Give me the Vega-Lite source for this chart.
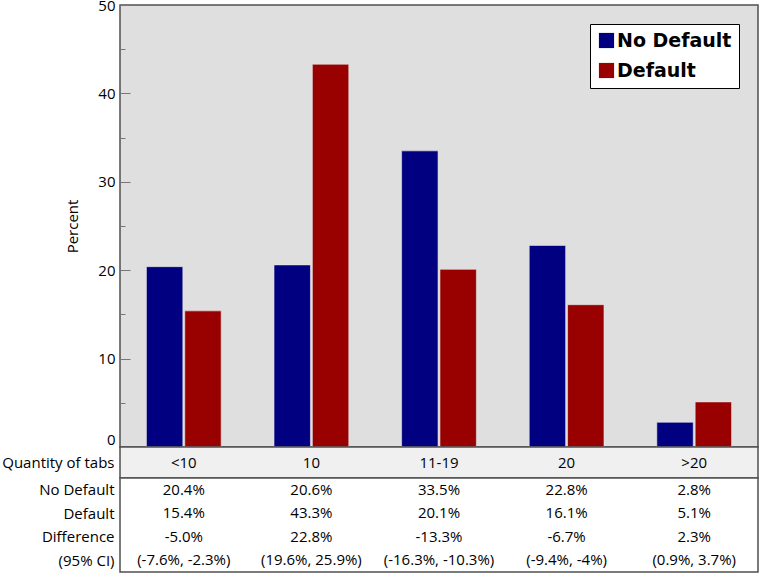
{
  "$schema": "https://vega.github.io/schema/vega-lite/v6.json",
  "padding": {"top": -3, "left": 0, "right": 2, "bottom": 0},
  "bounds": "flush",
  "spacing": 0,
  "background": "white",
  "config": {
    "font": "Open Sans",
    "view": {"stroke": "#505050", "strokeWidth": 1.5},
    "axis": {"labelFont": "Open Sans", "titleFont": "Open Sans", "labelColor": "black", "titleColor": "black"}
  },
  "datasets": {
    "bars": [
      {"tabs": "<10", "group": "No Default", "pct": 20.4},
      {"tabs": "<10", "group": "Default", "pct": 15.4},
      {"tabs": "10", "group": "No Default", "pct": 20.6},
      {"tabs": "10", "group": "Default", "pct": 43.3},
      {"tabs": "11-19", "group": "No Default", "pct": 33.5},
      {"tabs": "11-19", "group": "Default", "pct": 20.1},
      {"tabs": "20", "group": "No Default", "pct": 22.8},
      {"tabs": "20", "group": "Default", "pct": 16.1},
      {"tabs": ">20", "group": "No Default", "pct": 2.8},
      {"tabs": ">20", "group": "Default", "pct": 5.1}
    ],
    "header": [
      {"tabs": "<10", "row": "Quantity of tabs"},
      {"tabs": "10", "row": "Quantity of tabs"},
      {"tabs": "11-19", "row": "Quantity of tabs"},
      {"tabs": "20", "row": "Quantity of tabs"},
      {"tabs": ">20", "row": "Quantity of tabs"}
    ],
    "table": [
      {"tabs": "<10", "row": "No Default", "text": "20.4%"},
      {"tabs": "10", "row": "No Default", "text": "20.6%"},
      {"tabs": "11-19", "row": "No Default", "text": "33.5%"},
      {"tabs": "20", "row": "No Default", "text": "22.8%"},
      {"tabs": ">20", "row": "No Default", "text": "2.8%"},
      {"tabs": "<10", "row": "Default", "text": "15.4%"},
      {"tabs": "10", "row": "Default", "text": "43.3%"},
      {"tabs": "11-19", "row": "Default", "text": "20.1%"},
      {"tabs": "20", "row": "Default", "text": "16.1%"},
      {"tabs": ">20", "row": "Default", "text": "5.1%"},
      {"tabs": "<10", "row": "Difference", "text": "-5.0%"},
      {"tabs": "10", "row": "Difference", "text": "22.8%"},
      {"tabs": "11-19", "row": "Difference", "text": "-13.3%"},
      {"tabs": "20", "row": "Difference", "text": "-6.7%"},
      {"tabs": ">20", "row": "Difference", "text": "2.3%"},
      {"tabs": "<10", "row": "(95% CI)", "text": "(-7.6%, -2.3%)"},
      {"tabs": "10", "row": "(95% CI)", "text": "(19.6%, 25.9%)"},
      {"tabs": "11-19", "row": "(95% CI)", "text": "(-16.3%, -10.3%)"},
      {"tabs": "20", "row": "(95% CI)", "text": "(-9.4%, -4%)"},
      {"tabs": ">20", "row": "(95% CI)", "text": "(0.9%, 3.7%)"}
    ]
  },
  "vconcat": [
    {
      "width": 638,
      "height": 442,
      "view": {"fill": "#dfdfdf"},
      "data": {"name": "bars"},
      "mark": {"type": "bar", "stroke": "#e8e8e8", "strokeWidth": 0.6},
      "encoding": {
        "x": {
          "field": "tabs", "type": "nominal",
          "sort": ["<10", "10", "11-19", "20", ">20"],
          "scale": {"type": "band", "paddingInner": 0.414, "paddingOuter": 0.207},
          "axis": {"labels": false, "domain": false, "ticks": true, "tickSize": 3, "tickColor": "#888", "title": null}
        },
        "xOffset": {
          "field": "group", "type": "nominal",
          "sort": ["No Default", "Default"],
          "scale": {"paddingInner": 0.05}
        },
        "y": {
          "field": "pct", "type": "quantitative",
          "scale": {"domain": [0, 50], "nice": false},
          "axis": {
            "title": "Percent", "titleFontSize": 15, "titleFontWeight": "normal", "titlePadding": 17,
            "values": [0, 5, 10, 15, 20, 25, 30, 35, 40, 45, 50],
            "labelExpr": "datum.value % 10 == 0 ? datum.label : ''",
            "labelFontSize": 15, "labelPadding": 15,
            "labelBaseline": {"condition": {"test": "datum.value == 0", "value": "bottom"}, "value": "middle"},
            "tickSize": {"condition": {"test": "datum.value % 10 == 0", "value": -10}, "value": -5},
            "tickColor": "#777", "tickWidth": 1, "domain": false, "grid": false
          }
        },
        "color": {
          "field": "group", "type": "nominal",
          "sort": ["No Default", "Default"],
          "scale": {"domain": ["No Default", "Default"], "range": ["#000080", "#990000"]},
          "legend": {
            "title": null, "orient": "top-right", "offset": 19,
            "fillColor": "white", "strokeColor": "black", "padding": 7,
            "symbolType": "square", "symbolSize": 230, "symbolStrokeWidth": 0,
            "labelFont": "DejaVu Sans", "labelFontSize": 19, "labelFontWeight": "bold", "labelColor": "black",
            "rowPadding": 10, "labelOffset": 1, "labelLimit": 300
          }
        }
      }
    },
    {
      "width": 638,
      "height": 31,
      "view": {"fill": "#f0f0f0"},
      "data": {"name": "header"},
      "mark": {"type": "text", "fontSize": 15, "font": "Open Sans", "color": "black"},
      "encoding": {
        "x": {
          "field": "tabs", "type": "nominal",
          "sort": ["<10", "10", "11-19", "20", ">20"],
          "scale": {"type": "point", "padding": 0.5},
          "axis": null
        },
        "y": {
          "field": "row", "type": "nominal",
          "axis": {"title": null, "domain": false, "ticks": false, "labelFontSize": 15, "labelPadding": 6}
        },
        "text": {"field": "tabs"}
      }
    },
    {
      "width": 638,
      "height": 94,
      "view": {"fill": "white"},
      "data": {"name": "table"},
      "mark": {"type": "text", "fontSize": 15, "font": "Open Sans", "color": "black"},
      "encoding": {
        "x": {
          "field": "tabs", "type": "nominal",
          "sort": ["<10", "10", "11-19", "20", ">20"],
          "scale": {"type": "point", "padding": 0.5},
          "axis": null
        },
        "y": {
          "field": "row", "type": "nominal",
          "sort": ["No Default", "Default", "Difference", "(95% CI)"],
          "axis": {"title": null, "domain": false, "ticks": false, "labelFontSize": 15, "labelPadding": 6}
        },
        "text": {"field": "text"}
      }
    }
  ]
}
